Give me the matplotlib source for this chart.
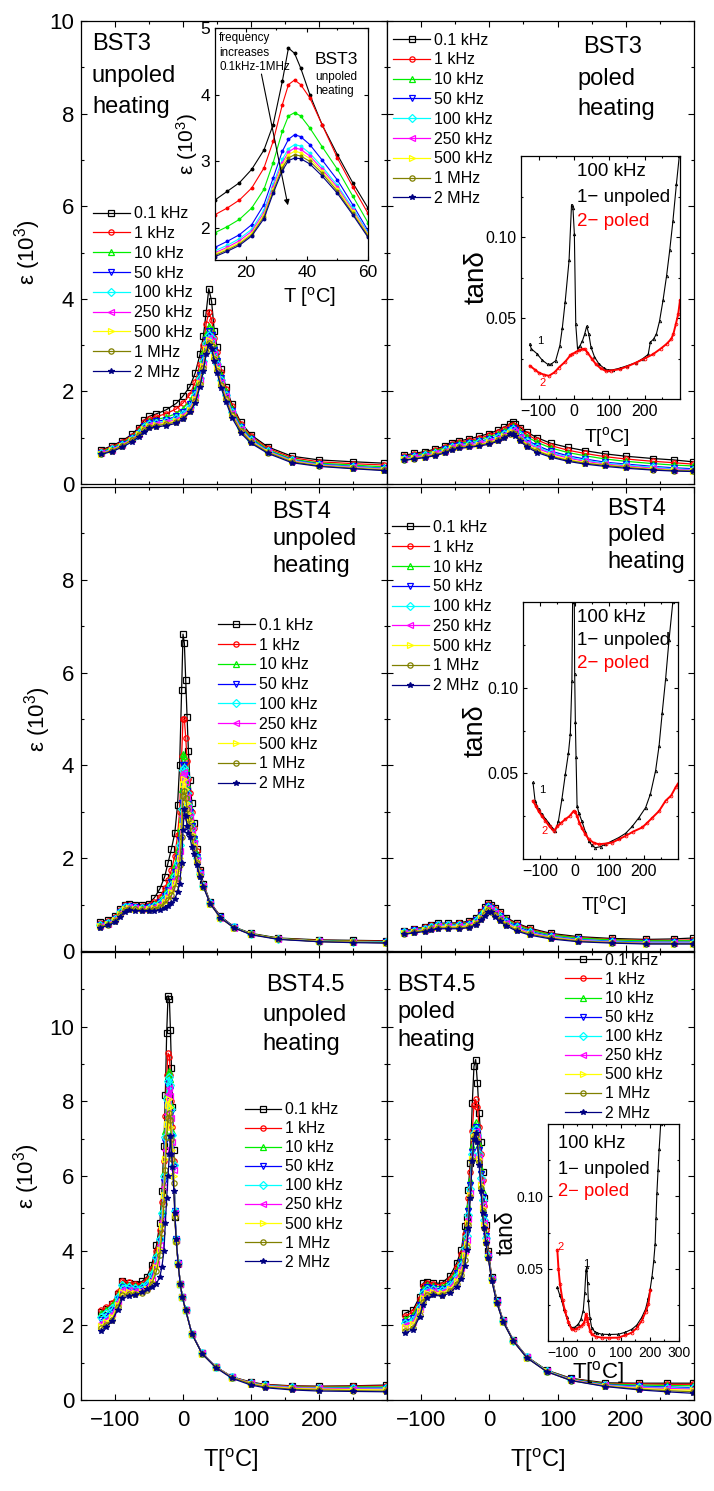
import matplotlib
matplotlib.use('Agg')
import matplotlib.pyplot as plt
from matplotlib.ticker import MultipleLocator

plt.rcParams['font.family'] = ['Liberation Sans', 'DejaVu Sans']
plt.rcParams['mathtext.fontset'] = 'custom'
plt.rcParams['mathtext.rm'] = 'Liberation Sans'
plt.rcParams['mathtext.it'] = 'Liberation Sans:italic'

W, H = 714, 1491

# series styling (same order in every panel)
labels = ['0.1 kHz', '1 kHz', '10 kHz', '50 kHz', '100 kHz', '250 kHz', '500 kHz', '1 MHz', '2 MHz']
colors = ['black', 'red', '#00ee00', 'blue', 'cyan', 'magenta', '#ffff00', '#808000', '#000080']
markers = ['s', 'o', '^', 'v', 'D', '<', '>', 'o', '*']

# ---------------- BST3 unpoled, eps (10^3) ----------------
t_bst3_unp = [-120, -105, -90, -75, -65, -57, -50, -40, -25, -10, 0, 10, 18, 25, 30, 34, 38, 42, 46, 50,
              56, 63, 72, 85, 100, 125, 160, 200, 250, 295]
eps_bst3_unp = [
    [0.74, 0.82, 0.93, 1.07, 1.22, 1.38, 1.46, 1.51, 1.60, 1.74, 1.90, 2.10, 2.40, 2.80, 3.20, 3.70, 4.22, 3.95, 3.30, 2.95, 2.48, 2.10, 1.72, 1.33, 1.06, 0.80, 0.60, 0.52, 0.48, 0.45],
    [0.72, 0.80, 0.91, 1.04, 1.18, 1.33, 1.41, 1.45, 1.52, 1.62, 1.75, 1.93, 2.20, 2.60, 3.00, 3.45, 3.72, 3.55, 3.15, 2.85, 2.42, 2.05, 1.68, 1.30, 1.03, 0.77, 0.57, 0.48, 0.44, 0.41],
    [0.70, 0.78, 0.88, 1.01, 1.14, 1.28, 1.36, 1.39, 1.44, 1.52, 1.63, 1.80, 2.05, 2.45, 2.85, 3.25, 3.42, 3.35, 3.00, 2.75, 2.35, 2.00, 1.63, 1.26, 1.00, 0.74, 0.54, 0.45, 0.41, 0.37],
    [0.68, 0.76, 0.86, 0.99, 1.11, 1.25, 1.32, 1.35, 1.39, 1.46, 1.56, 1.72, 1.97, 2.35, 2.72, 3.12, 3.30, 3.22, 2.90, 2.65, 2.28, 1.95, 1.58, 1.23, 0.97, 0.72, 0.52, 0.43, 0.38, 0.34],
    [0.67, 0.75, 0.85, 0.98, 1.10, 1.23, 1.30, 1.32, 1.36, 1.42, 1.52, 1.67, 1.92, 2.30, 2.65, 3.05, 3.22, 3.15, 2.85, 2.60, 2.24, 1.92, 1.56, 1.21, 0.95, 0.71, 0.51, 0.42, 0.37, 0.33],
    [0.66, 0.74, 0.84, 0.97, 1.08, 1.21, 1.28, 1.30, 1.33, 1.39, 1.48, 1.63, 1.87, 2.24, 2.60, 2.98, 3.16, 3.08, 2.80, 2.55, 2.20, 1.89, 1.53, 1.19, 0.93, 0.70, 0.50, 0.41, 0.36, 0.32],
    [0.65, 0.73, 0.83, 0.96, 1.07, 1.19, 1.26, 1.28, 1.31, 1.36, 1.45, 1.60, 1.83, 2.19, 2.55, 2.92, 3.10, 3.02, 2.75, 2.50, 2.16, 1.86, 1.50, 1.17, 0.92, 0.69, 0.49, 0.40, 0.35, 0.31],
    [0.65, 0.72, 0.82, 0.95, 1.06, 1.17, 1.24, 1.26, 1.29, 1.34, 1.42, 1.57, 1.79, 2.15, 2.50, 2.86, 3.05, 2.97, 2.70, 2.45, 2.13, 1.83, 1.48, 1.15, 0.90, 0.68, 0.48, 0.39, 0.34, 0.30],
    [0.64, 0.70, 0.79, 0.91, 1.02, 1.13, 1.20, 1.23, 1.26, 1.31, 1.40, 1.55, 1.75, 2.10, 2.45, 2.80, 3.00, 2.92, 2.65, 2.40, 2.08, 1.78, 1.43, 1.10, 0.88, 0.66, 0.46, 0.38, 0.33, 0.29],
]

# inset: BST3 unpoled around the peak
t_bst3_zoom = [10, 14, 18, 22, 26, 29, 32, 34, 36, 38, 41, 45, 50, 55, 60]
eps_bst3_zoom = [
    [2.42, 2.55, 2.68, 2.88, 3.17, 3.55, 4.20, 4.70, 4.62, 4.40, 4.00, 3.55, 3.10, 2.68, 2.30],
    [2.20, 2.30, 2.42, 2.60, 2.90, 3.30, 3.85, 4.15, 4.22, 4.15, 3.95, 3.55, 3.05, 2.62, 2.22],
    [1.93, 2.02, 2.13, 2.30, 2.58, 2.98, 3.45, 3.68, 3.73, 3.68, 3.50, 3.22, 2.88, 2.48, 2.08],
    [1.71, 1.80, 1.90, 2.05, 2.35, 2.75, 3.15, 3.33, 3.40, 3.37, 3.25, 3.02, 2.72, 2.35, 1.96],
    [1.66, 1.74, 1.84, 1.98, 2.27, 2.66, 3.03, 3.19, 3.25, 3.23, 3.12, 2.92, 2.64, 2.30, 1.93],
    [1.63, 1.71, 1.81, 1.95, 2.23, 2.62, 2.98, 3.14, 3.20, 3.18, 3.08, 2.88, 2.61, 2.27, 1.91],
    [1.61, 1.69, 1.78, 1.92, 2.20, 2.58, 2.94, 3.10, 3.15, 3.13, 3.04, 2.85, 2.58, 2.25, 1.90],
    [1.59, 1.67, 1.76, 1.90, 2.17, 2.55, 2.90, 3.05, 3.10, 3.08, 3.00, 2.82, 2.55, 2.22, 1.88],
    [1.57, 1.65, 1.74, 1.88, 2.14, 2.52, 2.86, 3.01, 3.05, 3.04, 2.96, 2.78, 2.52, 2.20, 1.86],
]

# ---------------- BST3 poled ----------------
t_bst3_pol = [-125, -110, -95, -80, -65, -55, -45, -30, -15, 0, 12, 22, 30, 34, 38, 45, 55, 70, 90, 115,
              140, 170, 200, 240, 270, 298]
eps_bst3_pol = [
    [0.62, 0.66, 0.70, 0.75, 0.82, 0.89, 0.93, 0.97, 1.03, 1.09, 1.16, 1.23, 1.30, 1.33, 1.30, 1.22, 1.12, 1.00, 0.88, 0.79, 0.72, 0.65, 0.60, 0.55, 0.52, 0.48],
    [0.60, 0.64, 0.68, 0.73, 0.80, 0.87, 0.90, 0.94, 0.99, 1.05, 1.12, 1.19, 1.26, 1.28, 1.26, 1.18, 1.07, 0.95, 0.83, 0.73, 0.66, 0.59, 0.54, 0.49, 0.46, 0.43],
    [0.58, 0.62, 0.66, 0.71, 0.78, 0.85, 0.88, 0.91, 0.96, 1.02, 1.08, 1.15, 1.22, 1.25, 1.22, 1.13, 1.02, 0.90, 0.78, 0.68, 0.61, 0.54, 0.49, 0.44, 0.41, 0.39],
    [0.56, 0.60, 0.63, 0.68, 0.75, 0.82, 0.85, 0.88, 0.92, 0.97, 1.03, 1.10, 1.17, 1.20, 1.17, 1.07, 0.95, 0.83, 0.71, 0.61, 0.54, 0.47, 0.43, 0.38, 0.35, 0.33],
    [0.55, 0.59, 0.62, 0.67, 0.74, 0.80, 0.83, 0.86, 0.90, 0.95, 1.01, 1.08, 1.15, 1.18, 1.15, 1.05, 0.92, 0.80, 0.68, 0.58, 0.51, 0.45, 0.41, 0.36, 0.33, 0.31],
    [0.54, 0.58, 0.61, 0.66, 0.72, 0.79, 0.82, 0.84, 0.88, 0.93, 0.99, 1.06, 1.13, 1.16, 1.13, 1.02, 0.89, 0.77, 0.66, 0.56, 0.49, 0.43, 0.39, 0.34, 0.31, 0.30],
    [0.53, 0.56, 0.59, 0.64, 0.70, 0.77, 0.80, 0.82, 0.85, 0.90, 0.96, 1.03, 1.10, 1.13, 1.09, 0.98, 0.85, 0.73, 0.62, 0.53, 0.46, 0.41, 0.37, 0.32, 0.30, 0.28],
    [0.52, 0.55, 0.58, 0.63, 0.69, 0.76, 0.79, 0.81, 0.84, 0.88, 0.94, 1.02, 1.08, 1.11, 1.07, 0.96, 0.83, 0.71, 0.60, 0.51, 0.45, 0.40, 0.36, 0.31, 0.29, 0.28],
    [0.51, 0.54, 0.57, 0.61, 0.67, 0.74, 0.77, 0.79, 0.82, 0.86, 0.92, 1.00, 1.07, 1.09, 1.04, 0.93, 0.80, 0.68, 0.58, 0.49, 0.43, 0.38, 0.34, 0.30, 0.28, 0.27],
]

# inset: BST3 tan delta at 100 kHz
t_tan3_unp = [-125, -121, -105, -90, -75, -65, -52, -40, -33, -25, -14, -7, -3, 1, 5, 10, 17, 24, 30, 36,
              42, 48, 58, 71, 85, 95, 110, 129, 150, 176, 195, 210, 216, 225, 233, 242, 252, 262, 271, 280,
              290, 298]
tan3_unp = [0.034, 0.031, 0.028, 0.024, 0.0215, 0.0215, 0.0236, 0.033, 0.044, 0.060, 0.0855, 0.120, 0.118,
            0.102, 0.046, 0.031, 0.033, 0.036, 0.040, 0.045, 0.040, 0.032, 0.026, 0.0215, 0.019, 0.018,
            0.018, 0.019, 0.0205, 0.0225, 0.025, 0.0275, 0.035, 0.037, 0.040, 0.048, 0.061, 0.076, 0.092,
            0.110, 0.133, 0.150]
t_tan3_pol = [-125, -110, -100, -85, -71, -55, -43, -25, -10, -5, 5, 15, 24, 30, 38, 50, 62, 75, 90, 105,
              129, 150, 176, 200, 224, 245, 262, 275, 281, 288, 295, 300]
tan3_pol = [0.0205, 0.018, 0.0163, 0.015, 0.0143, 0.0165, 0.0194, 0.023, 0.027, 0.0277, 0.029, 0.030,
            0.0308, 0.031, 0.0287, 0.025, 0.0215, 0.019, 0.0173, 0.0175, 0.0184, 0.020, 0.0225, 0.025,
            0.0277, 0.031, 0.034, 0.037, 0.040, 0.046, 0.0525, 0.061]

# ---------------- BST4 unpoled ----------------
t_bst4_unp = [-122, -110, -100, -92, -86, -80, -70, -60, -50, -42, -34, -27, -22, -17, -12, -8, -5, -2, 0, 2,
              4, 6, 8, 10, 13, 16, 20, 25, 30, 40, 55, 75, 100, 140, 200, 250, 298]
eps_bst4_unp = [
    [0.62, 0.67, 0.76, 0.90, 1.00, 1.02, 0.99, 0.99, 1.02, 1.15, 1.34, 1.60, 1.90, 2.20, 2.55, 3.15, 4.00, 5.63, 6.83, 6.63, 5.84, 5.04, 4.30, 3.69, 3.20, 2.75, 2.20, 1.75, 1.45, 1.05, 0.75, 0.52, 0.38, 0.28, 0.24, 0.23, 0.22],
    [0.60, 0.65, 0.74, 0.88, 0.99, 1.00, 0.97, 0.97, 0.99, 1.05, 1.17, 1.35, 1.52, 1.75, 2.05, 2.50, 3.00, 4.20, 5.00, 5.00, 4.60, 4.10, 3.70, 3.40, 3.00, 2.65, 2.15, 1.72, 1.43, 1.04, 0.74, 0.51, 0.37, 0.27, 0.23, 0.22, 0.21],
    [0.58, 0.63, 0.72, 0.86, 0.97, 0.98, 0.95, 0.95, 0.96, 1.01, 1.10, 1.25, 1.40, 1.60, 1.85, 2.20, 2.65, 3.50, 4.25, 4.20, 3.95, 3.60, 3.30, 3.10, 2.80, 2.50, 2.08, 1.70, 1.42, 1.03, 0.73, 0.51, 0.37, 0.27, 0.22, 0.21, 0.20],
    [0.56, 0.61, 0.70, 0.84, 0.95, 0.96, 0.94, 0.93, 0.94, 0.98, 1.06, 1.18, 1.31, 1.48, 1.70, 2.00, 2.40, 3.20, 4.00, 4.00, 3.80, 3.45, 3.20, 3.00, 2.70, 2.42, 2.03, 1.68, 1.41, 1.03, 0.73, 0.51, 0.36, 0.26, 0.21, 0.20, 0.19],
    [0.55, 0.60, 0.69, 0.83, 0.94, 0.95, 0.93, 0.92, 0.93, 0.96, 1.03, 1.14, 1.26, 1.42, 1.62, 1.90, 2.28, 3.05, 3.90, 3.95, 3.75, 3.40, 3.15, 2.95, 2.65, 2.38, 2.00, 1.67, 1.40, 1.03, 0.72, 0.51, 0.36, 0.26, 0.21, 0.20, 0.19],
    [0.54, 0.59, 0.68, 0.82, 0.93, 0.94, 0.92, 0.91, 0.92, 0.95, 1.01, 1.10, 1.21, 1.36, 1.55, 1.80, 2.15, 2.90, 3.80, 3.85, 3.65, 3.32, 3.08, 2.88, 2.60, 2.33, 1.97, 1.65, 1.40, 1.02, 0.72, 0.50, 0.36, 0.26, 0.21, 0.19, 0.18],
    [0.53, 0.58, 0.66, 0.80, 0.91, 0.93, 0.91, 0.90, 0.90, 0.93, 0.98, 1.06, 1.15, 1.28, 1.46, 1.70, 2.00, 2.70, 3.60, 3.70, 3.50, 3.20, 2.98, 2.80, 2.53, 2.28, 1.94, 1.64, 1.39, 1.02, 0.72, 0.50, 0.36, 0.26, 0.21, 0.19, 0.18],
    [0.52, 0.57, 0.65, 0.78, 0.89, 0.91, 0.90, 0.89, 0.89, 0.91, 0.95, 1.02, 1.09, 1.20, 1.36, 1.58, 1.85, 2.45, 3.35, 3.45, 3.30, 3.05, 2.85, 2.70, 2.45, 2.22, 1.90, 1.62, 1.39, 1.02, 0.71, 0.50, 0.36, 0.26, 0.20, 0.19, 0.18],
    [0.50, 0.55, 0.62, 0.74, 0.85, 0.88, 0.87, 0.86, 0.86, 0.87, 0.89, 0.93, 0.97, 1.03, 1.12, 1.28, 1.45, 1.90, 2.60, 3.05, 2.90, 2.70, 2.55, 2.45, 2.25, 2.08, 1.85, 1.60, 1.38, 1.02, 0.72, 0.50, 0.35, 0.25, 0.20, 0.18, 0.17],
]

# ---------------- BST4 poled ----------------
t_bst4_pol = [-125, -110, -95, -85, -75, -60, -45, -30, -20, -12, -6, -2, 2, 8, 15, 25, 40, 60, 90, 130,
              180, 230, 270, 298]
eps_bst4_pol = [
    [0.44, 0.48, 0.52, 0.56, 0.60, 0.60, 0.61, 0.64, 0.72, 0.85, 0.95, 1.03, 1.00, 0.92, 0.83, 0.72, 0.60, 0.49, 0.38, 0.31, 0.27, 0.25, 0.26, 0.28],
    [0.43, 0.47, 0.51, 0.55, 0.59, 0.59, 0.60, 0.62, 0.70, 0.83, 0.93, 1.01, 0.98, 0.90, 0.81, 0.70, 0.58, 0.47, 0.36, 0.29, 0.25, 0.23, 0.23, 0.24],
    [0.42, 0.46, 0.50, 0.54, 0.58, 0.58, 0.58, 0.61, 0.68, 0.81, 0.91, 0.99, 0.96, 0.88, 0.78, 0.68, 0.56, 0.45, 0.35, 0.28, 0.24, 0.22, 0.22, 0.22],
    [0.41, 0.45, 0.48, 0.52, 0.56, 0.56, 0.56, 0.59, 0.66, 0.78, 0.88, 0.96, 0.93, 0.85, 0.75, 0.65, 0.53, 0.42, 0.32, 0.25, 0.21, 0.19, 0.19, 0.19],
    [0.40, 0.44, 0.47, 0.51, 0.55, 0.55, 0.55, 0.57, 0.64, 0.76, 0.86, 0.94, 0.91, 0.83, 0.73, 0.63, 0.51, 0.40, 0.31, 0.24, 0.20, 0.18, 0.18, 0.18],
    [0.39, 0.43, 0.46, 0.50, 0.53, 0.53, 0.53, 0.55, 0.62, 0.74, 0.84, 0.92, 0.89, 0.81, 0.71, 0.61, 0.49, 0.39, 0.30, 0.23, 0.19, 0.17, 0.17, 0.17],
    [0.38, 0.42, 0.45, 0.48, 0.52, 0.52, 0.52, 0.54, 0.60, 0.72, 0.82, 0.90, 0.87, 0.79, 0.69, 0.59, 0.47, 0.37, 0.29, 0.22, 0.18, 0.16, 0.16, 0.16],
    [0.37, 0.41, 0.44, 0.47, 0.50, 0.50, 0.50, 0.52, 0.58, 0.69, 0.79, 0.88, 0.85, 0.77, 0.67, 0.57, 0.45, 0.36, 0.28, 0.21, 0.18, 0.16, 0.16, 0.16],
    [0.36, 0.39, 0.42, 0.45, 0.48, 0.48, 0.48, 0.50, 0.56, 0.66, 0.76, 0.85, 0.83, 0.74, 0.64, 0.54, 0.43, 0.34, 0.26, 0.20, 0.17, 0.15, 0.15, 0.15],
]

# inset: BST4 tan delta at 100 kHz
t_tan4_unp = [-121, -115, -105, -95, -85, -76, -65, -56, -47, -37, -27, -18, -12.6, -8, -6, -4, -1, 0, 2, 4,
              7, 12, 21, 31, 41, 50, 60, 75, 89, 108, 128, 148, 167, 186, 206, 220, 235, 245, 254, 264,
              274, 285, 290]
tan4_unp = [0.0447, 0.034, 0.029, 0.026, 0.0235, 0.0213, 0.018, 0.0164, 0.0223, 0.035, 0.0496, 0.062, 0.073,
            0.104, 0.150, 0.180, 0.150, 0.108, 0.080, 0.0594, 0.031, 0.027, 0.022, 0.016, 0.0105, 0.008,
            0.0066, 0.0072, 0.0086, 0.0105, 0.0125, 0.015, 0.019, 0.024, 0.030, 0.038, 0.0516, 0.066,
            0.085, 0.105, 0.128, 0.150, 0.160]
t_tan4_pol = [-121, -113, -105, -95, -85, -73, -61, -50, -40, -27, -15, -3, 2, 7, 14, 21, 31, 41, 55, 70,
              90, 109, 128, 148, 170, 196, 210, 225, 245, 264, 280, 293, 300]
tan4_pol = [0.034, 0.031, 0.028, 0.025, 0.0223, 0.019, 0.0164, 0.019, 0.021, 0.0232, 0.025, 0.028, 0.0275,
            0.025, 0.021, 0.018, 0.0145, 0.0115, 0.0095, 0.0086, 0.009, 0.0096, 0.0115, 0.0135, 0.016,
            0.0184, 0.021, 0.024, 0.028, 0.034, 0.037, 0.0418, 0.044]

# ---------------- BST4.5 unpoled ----------------
t_bst45_unp = [-120, -113, -104, -96, -89, -80, -70, -60, -53, -46, -39, -34, -31, -28, -26, -24, -22, -20,
               -18.5, -17, -15.5, -13.5, -12, -10, -7, -4, -1, 4, 13, 28, 48, 72, 100, 120, 160, 200, 250, 298]
eps_bst45_unp = [
    [2.36, 2.45, 2.58, 2.85, 3.20, 3.14, 3.12, 3.18, 3.30, 3.62, 4.15, 4.73, 5.60, 6.80, 8.17, 9.83, 10.83, 10.73, 9.92, 8.90, 7.86, 6.70, 4.91, 4.29, 3.66, 3.12, 2.77, 2.41, 1.78, 1.25, 0.89, 0.62, 0.48, 0.42, 0.38, 0.37, 0.38, 0.40],
    [2.40, 2.48, 2.60, 2.88, 3.20, 3.15, 3.10, 3.12, 3.22, 3.50, 4.00, 4.55, 5.30, 6.40, 7.60, 8.70, 9.29, 9.20, 8.70, 8.00, 7.30, 6.40, 5.00, 4.30, 3.66, 3.12, 2.77, 2.41, 1.78, 1.25, 0.89, 0.62, 0.47, 0.41, 0.37, 0.36, 0.37, 0.38],
    [2.32, 2.42, 2.55, 2.82, 3.12, 3.08, 3.05, 3.07, 3.16, 3.42, 3.88, 4.40, 5.10, 6.10, 7.20, 8.20, 8.70, 8.80, 8.60, 7.90, 7.20, 6.35, 5.05, 4.30, 3.66, 3.12, 2.77, 2.41, 1.78, 1.25, 0.89, 0.62, 0.46, 0.40, 0.35, 0.34, 0.35, 0.35],
    [2.15, 2.25, 2.40, 2.70, 3.02, 3.00, 2.98, 3.00, 3.08, 3.30, 3.75, 4.25, 4.90, 5.85, 6.90, 7.90, 8.40, 8.50, 8.30, 7.70, 7.05, 6.25, 5.05, 4.30, 3.66, 3.12, 2.77, 2.41, 1.78, 1.25, 0.89, 0.61, 0.45, 0.39, 0.34, 0.32, 0.32, 0.32],
    [2.22, 2.32, 2.46, 2.76, 3.08, 3.04, 3.00, 3.02, 3.12, 3.38, 3.82, 4.32, 5.00, 6.00, 7.05, 8.05, 8.55, 8.65, 8.45, 7.80, 7.10, 6.30, 5.05, 4.30, 3.66, 3.12, 2.77, 2.41, 1.78, 1.25, 0.89, 0.61, 0.45, 0.39, 0.34, 0.32, 0.31, 0.31],
    [2.05, 2.15, 2.30, 2.62, 2.95, 2.94, 2.92, 2.94, 3.02, 3.22, 3.65, 4.15, 4.80, 5.70, 6.70, 7.65, 8.20, 8.35, 8.15, 7.55, 6.90, 6.15, 5.00, 4.28, 3.65, 3.12, 2.77, 2.41, 1.78, 1.25, 0.89, 0.61, 0.45, 0.38, 0.33, 0.31, 0.30, 0.29],
    [1.98, 2.08, 2.22, 2.55, 2.88, 2.88, 2.87, 2.90, 2.98, 3.15, 3.55, 4.02, 4.65, 5.50, 6.45, 7.40, 7.90, 8.05, 7.85, 7.30, 6.70, 6.00, 4.95, 4.25, 3.64, 3.11, 2.76, 2.40, 1.77, 1.24, 0.88, 0.60, 0.44, 0.37, 0.31, 0.29, 0.28, 0.27],
    [1.92, 2.02, 2.15, 2.48, 2.80, 2.84, 2.84, 2.87, 2.95, 3.10, 3.45, 3.88, 4.48, 5.25, 6.15, 7.05, 7.55, 7.68, 7.50, 7.00, 6.45, 5.80, 4.90, 4.22, 3.62, 3.10, 2.75, 2.40, 1.77, 1.24, 0.88, 0.60, 0.43, 0.35, 0.29, 0.27, 0.25, 0.24],
    [1.86, 1.96, 2.12, 2.42, 2.72, 2.78, 2.82, 2.88, 2.96, 3.03, 3.12, 3.30, 3.57, 4.00, 4.73, 5.40, 6.00, 6.60, 7.06, 6.60, 6.25, 5.60, 5.00, 4.30, 3.62, 3.10, 2.75, 2.40, 1.77, 1.24, 0.87, 0.58, 0.40, 0.33, 0.27, 0.24, 0.23, 0.22],
]

# ---------------- BST4.5 poled ----------------
t_bst45_pol = [-124, -112, -102, -97, -92, -82, -70, -58, -48, -41, -36, -33, -31, -28, -25, -22.5, -20,
               -17.5, -15, -12, -10, -8, -5, -1.5, 3.5, 11, 20, 35, 55, 84, 120, 170, 220, 260, 298]
eps_bst45_pol = [
    [2.32, 2.41, 2.77, 3.13, 3.17, 3.13, 3.13, 3.31, 3.66, 4.02, 4.65, 4.90, 5.63, 6.34, 7.95, 8.94, 9.12, 8.50, 7.70, 6.90, 6.10, 5.40, 4.70, 4.00, 3.30, 2.68, 2.14, 1.61, 1.16, 0.80, 0.58, 0.46, 0.45, 0.45, 0.45],
    [2.25, 2.35, 2.70, 3.05, 3.13, 3.10, 3.08, 3.24, 3.56, 3.90, 4.45, 4.75, 5.40, 6.10, 7.20, 7.90, 8.05, 7.85, 7.30, 6.60, 5.90, 5.20, 4.55, 3.95, 3.28, 2.66, 2.13, 1.60, 1.15, 0.79, 0.57, 0.44, 0.43, 0.42, 0.42],
    [2.18, 2.28, 2.62, 2.98, 3.08, 3.05, 3.03, 3.18, 3.48, 3.80, 4.30, 4.60, 5.20, 5.90, 6.80, 7.35, 7.45, 7.30, 6.85, 6.20, 5.60, 5.00, 4.45, 3.90, 3.26, 2.65, 2.12, 1.60, 1.15, 0.79, 0.56, 0.43, 0.40, 0.39, 0.38],
    [2.10, 2.20, 2.55, 2.90, 3.02, 3.00, 2.98, 3.12, 3.40, 3.70, 4.18, 4.48, 5.05, 5.75, 6.65, 7.20, 7.30, 7.15, 6.70, 6.05, 5.45, 4.90, 4.38, 3.87, 3.25, 2.64, 2.12, 1.59, 1.14, 0.78, 0.55, 0.41, 0.37, 0.35, 0.33],
    [2.05, 2.15, 2.50, 2.86, 2.98, 2.96, 2.94, 3.07, 3.33, 3.62, 4.08, 4.38, 4.95, 5.65, 6.58, 7.15, 7.25, 7.10, 6.60, 5.95, 5.35, 4.82, 4.33, 3.85, 3.24, 2.63, 2.11, 1.59, 1.14, 0.78, 0.54, 0.40, 0.35, 0.33, 0.31],
    [2.00, 2.10, 2.45, 2.80, 2.93, 2.92, 2.90, 3.02, 3.26, 3.53, 3.98, 4.28, 4.85, 5.55, 6.52, 7.10, 7.20, 7.05, 6.52, 5.85, 5.25, 4.75, 4.28, 3.83, 3.23, 2.62, 2.11, 1.59, 1.14, 0.77, 0.54, 0.39, 0.33, 0.31, 0.29],
    [1.95, 2.04, 2.38, 2.72, 2.87, 2.88, 2.86, 2.97, 3.18, 3.44, 3.88, 4.18, 4.75, 5.48, 6.46, 7.05, 7.15, 7.00, 6.45, 5.75, 5.15, 4.68, 4.24, 3.82, 3.22, 2.61, 2.10, 1.58, 1.13, 0.77, 0.53, 0.38, 0.31, 0.28, 0.26],
    [1.85, 1.94, 2.28, 2.62, 2.80, 2.84, 2.82, 2.92, 3.10, 3.35, 3.75, 4.10, 4.68, 5.44, 6.42, 7.02, 7.10, 6.95, 6.38, 5.68, 5.05, 4.62, 4.21, 3.80, 3.21, 2.60, 2.10, 1.58, 1.13, 0.76, 0.52, 0.37, 0.29, 0.25, 0.22],
    [1.79, 1.88, 2.23, 2.55, 2.72, 2.80, 2.79, 2.86, 3.04, 3.25, 3.60, 4.02, 4.60, 5.40, 6.40, 7.00, 7.15, 6.90, 6.30, 5.60, 5.00, 4.60, 4.20, 3.80, 3.20, 2.60, 2.10, 1.58, 1.13, 0.76, 0.52, 0.36, 0.27, 0.22, 0.18],
]

# inset: BST4.5 tan delta at 100 kHz
t_tan45_unp = [-118, -110, -103, -95, -86, -78, -69, -58, -46, -37, -29, -24, -19.5, -17, -14, -11.5, -6, 0,
               10, 20, 34.5, 60, 92, 115, 138, 155, 172, 185, 195, 201, 207, 213, 218, 221, 224, 228, 232, 237]
tan45_unp = [0.037, 0.032, 0.028, 0.022, 0.0163, 0.012, 0.0093, 0.0095, 0.0116, 0.015, 0.021, 0.033, 0.049,
             0.051, 0.040, 0.028, 0.016, 0.0093, 0.0065, 0.0055, 0.0047, 0.0045, 0.0047, 0.006, 0.0081,
             0.011, 0.0163, 0.022, 0.030, 0.036, 0.044, 0.055, 0.067, 0.085, 0.102, 0.118, 0.133, 0.150]
t_tan45_pol = [-118, -114, -109, -100, -92, -80, -69, -58, -46, -35, -29, -24, -19.5, -15, -11.5, -5, 0, 15,
               34.5, 60, 92, 115, 138, 155, 172, 185, 195, 201]
tan45_pol = [0.063, 0.050, 0.0395, 0.028, 0.021, 0.013, 0.0081, 0.0078, 0.0093, 0.0105, 0.0116, 0.014,
             0.0186, 0.016, 0.0116, 0.007, 0.0047, 0.003, 0.0023, 0.0022, 0.0023, 0.004, 0.0058, 0.009,
             0.014, 0.02, 0.0256, 0.035]


def rect(x0, y0, x1, y1):
    return [x0 / W, 1 - y1 / H, (x1 - x0) / W, (y1 - y0) / H]


def style(ax, size, major=4, minor=2):
    ax.tick_params(which='both', direction='in', top=True, right=True, labelsize=size, width=0.8)
    ax.tick_params(which='major', length=major)
    ax.tick_params(which='minor', length=minor)
    for s in ax.spines.values():
        s.set_linewidth(0.9)


def draw_main(ax, t, series, ms=3.8):
    for y, c, m, lab in zip(series, colors, markers, labels):
        ax.plot(t, y, color=c, lw=0.9, marker=m, ms=ms, mec=c,
                mfc=c if m == '*' else 'none', mew=0.9, label=lab)


def legend(ax, x, y, size=11.5, spacing=0.3):
    ax.legend(loc='upper left', bbox_to_anchor=(x, y), frameon=False, fontsize=size,
              borderpad=0, borderaxespad=0, labelspacing=spacing, handlelength=2.3,
              handletextpad=0.25)


def label_lines(lines, size, color='black'):
    for txt, x, y in lines:
        fig.text(x / W, 1 - y / H, txt, fontsize=size, ha='left', va='center', color=color)


fig = plt.figure(figsize=(W / 100, H / 100), dpi=100)

cols = [(81, 387), (387, 694)]
rows = [(21, 484), (487, 951), (952, 1400)]
eps_label = 'ε (10$^3$)'
t_label = 'T[$^\\mathrm{o}$C]'

panels = [
    (t_bst3_unp, eps_bst3_unp), (t_bst3_pol, eps_bst3_pol),
    (t_bst4_unp, eps_bst4_unp), (t_bst4_pol, eps_bst4_pol),
    (t_bst45_unp, eps_bst45_unp), (t_bst45_pol, eps_bst45_pol),
]
ylims = [10, 10, 12]
yticks = [[0, 2, 4, 6, 8, 10], [0, 2, 4, 6, 8], [0, 2, 4, 6, 8, 10]]
ylab_x = [-0.124, -0.092, -0.127]

axes = []
for i, (t, s) in enumerate(panels):
    r, c = divmod(i, 2)
    ax = fig.add_axes(rect(cols[c][0], rows[r][0], cols[c][1], rows[r][1]))
    draw_main(ax, t, s)
    ax.set_xlim(-150, 300)
    ax.set_ylim(0, ylims[r])
    ax.set_yticks(yticks[r])
    ax.yaxis.set_minor_locator(MultipleLocator(1))
    ax.set_xticks([-100, 0, 100, 200] if c == 0 else [-100, 0, 100, 200, 300])
    ax.xaxis.set_minor_locator(MultipleLocator(50))
    style(ax, 16)
    ax.tick_params(axis='y', pad=5)
    ax.tick_params(axis='x', pad=7)
    if c == 1:
        ax.set_yticklabels([])
    else:
        ax.set_ylabel(eps_label, fontsize=16)
        ax.yaxis.set_label_coords(ylab_x[r], 0.5)
    if r < 2:
        ax.set_xticklabels([])
    else:
        ax.set_xlabel(t_label, fontsize=17)
        ax.xaxis.set_label_coords(0.49, -0.105)
    axes.append(ax)

legend(axes[0], 0.039, 0.600)
legend(axes[1], 0.020, 0.975)
legend(axes[2], 0.448, 0.718)
legend(axes[3], 0.016, 0.929)
legend(axes[4], 0.536, 0.665, 11.3, 0.26)
legend(axes[5], 0.580, 0.998, 11.3, 0.26)

label_lines([('BST3', 92, 44), ('unpoled', 92, 76), ('heating', 92, 107)], 17)
label_lines([('BST3', 583, 47), ('poled', 577, 79), ('heating', 577, 109)], 17)
label_lines([('BST4', 272, 512), ('unpoled', 272, 539), ('heating', 272, 566)], 17)
label_lines([('BST4', 607, 509), ('poled', 607, 535), ('heating', 607, 562)], 17)
label_lines([('BST4.5', 266, 985), ('unpoled', 262, 1015), ('heating', 262, 1044)], 17)
label_lines([('BST4.5', 397, 985), ('poled', 397, 1012), ('heating', 397, 1040)], 17)

# ---- inset 1: BST3 unpoled eps near peak ----
ai = fig.add_axes(rect(215, 28, 368, 260))
for y, c in zip(eps_bst3_zoom, colors):
    ai.plot(t_bst3_zoom, y, color=c, lw=0.8, marker='o', ms=1.8, mfc=c, mec=c)
ai.set_xlim(10, 60)
ai.set_ylim(1.52, 5)
ai.set_xticks([20, 40, 60])
ai.xaxis.set_minor_locator(MultipleLocator(10))
ai.set_yticks([2, 3, 4, 5])
style(ai, 12.5, 3, 1.5)
ai.set_ylabel(eps_label, fontsize=15)
ai.yaxis.set_label_coords(-0.098, 0.5)
ai.set_xlabel('T [$^\\mathrm{o}$C]', fontsize=14.5)
ai.xaxis.set_label_coords(0.62, -0.108)
ai.annotate('', xy=(34, 2.3), xytext=(25, 4.35),
            arrowprops=dict(arrowstyle='-|>', color='black', lw=0.8, mutation_scale=8))
label_lines([('frequency', 219, 38), ('increases', 219, 53), ('0.1kHz-1MHz', 219, 67)], 8.4)
label_lines([('BST3', 315, 60)], 12.5)
label_lines([('unpoled', 315, 77), ('heating', 315, 91)], 8.5)


def tan_inset(box, tu, yu, tp, yp, xt, size, lab, xlab, texts, nums):
    a = fig.add_axes(rect(*box))
    a.plot(tu, yu, color='black', lw=0.8, marker='^', ms=1.8, mfc='none', mec='black', mew=0.6)
    a.plot(tp, yp, color='red', lw=1.4, marker='o', ms=2, mfc='none', mec='red', mew=0.6)
    a.set_xlim(-150, 300)
    a.set_ylim(0, 0.15)
    a.set_xticks(xt)
    a.xaxis.set_minor_locator(MultipleLocator(50))
    a.set_yticks([0.05, 0.10])
    a.set_yticks([0.025, 0.075, 0.125], minor=True)
    a.yaxis.set_major_formatter(plt.FormatStrFormatter('%.2f'))
    style(a, size, 3, 1.5)
    a.set_ylabel('tanδ', fontsize=lab[1])
    a.yaxis.set_label_coords(lab[0], 0.5)
    a.set_xlabel(t_label, fontsize=xlab[2])
    a.xaxis.set_label_coords(xlab[0], xlab[1])
    x0, ys, fs = texts
    label_lines([('100 kHz', x0, ys[0]), ('1− unpoled', x0, ys[1])], fs)
    label_lines([('2− poled', x0, ys[2])], fs, 'red')
    for (n, x, y, col) in nums:
        a.text(x, y, n, fontsize=8, color=col, ha='center', va='center')
    return a


tan_inset((521, 156, 680, 399), t_tan3_unp, tan3_unp, t_tan3_pol, tan3_pol,
          [-100, 0, 100, 200], 11.5, (-0.20, 20), (0.54, -0.107, 14),
          (577, (172, 198, 222), 13.5),
          [('1', -97, 0.036, 'black'), ('2', -90, 0.010, 'red')])
tan_inset((523, 602, 678, 859), t_tan4_unp, tan4_unp, t_tan4_pol, tan4_pol,
          [-100, 0, 100, 200], 11.5, (-0.22, 19.5), (0.52, -0.132, 14),
          (577, (617, 640, 663), 13.5),
          [('1', -95, 0.040, 'black'), ('2', -87, 0.0164, 'red')])
tan_inset((548, 1124, 679, 1341), t_tan45_unp, tan45_unp, t_tan45_pol, tan45_pol,
          [-100, 0, 100, 200, 300], 10, (-0.23, 16.5), (0.38, -0.085, 16),
          (558, (1143, 1170, 1192), 13.2),
          [('1', -19.5, 0.053, 'black'), ('2', -108, 0.065, 'red')])

fig.savefig('out.png', dpi=100)
